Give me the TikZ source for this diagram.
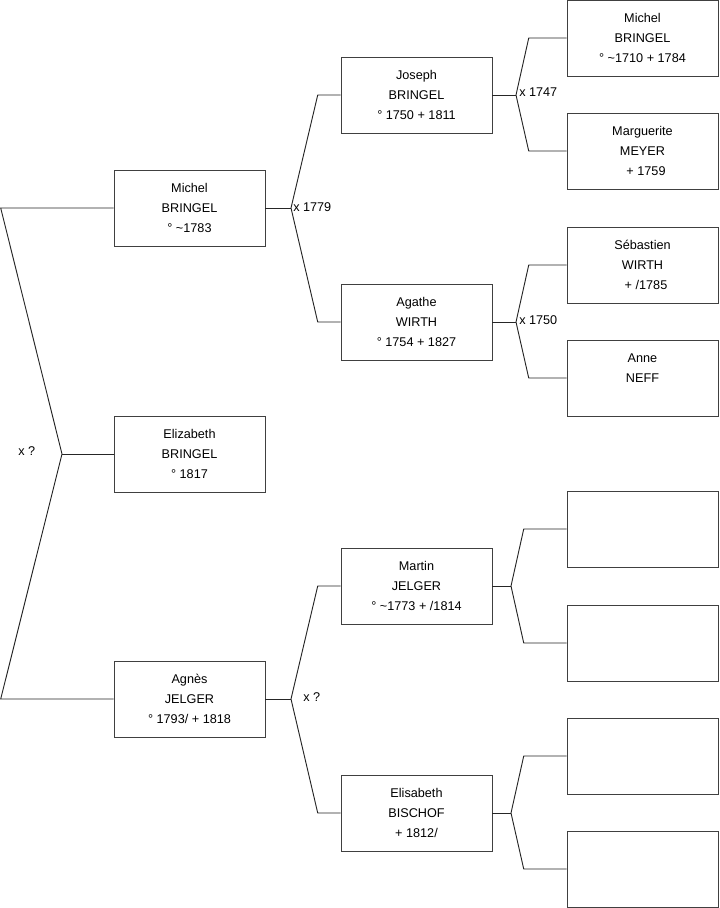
\documentclass[tikz,border=0pt]{standalone}
\usepackage{fontspec}
\setmainfont{Liberation Sans}
\usetikzlibrary{positioning, calc}

\begin{document}
\begin{tikzpicture}[
        x=0.75pt, y=-0.75pt,
        person/.style={rectangle, draw=black!75, fill=white, minimum width=113.25pt, minimum height=57pt, align=center, inner sep=0pt, font=\fontsize{9.5pt}{15pt}\selectfont},
        union/.style={font=\fontsize{9.5pt}{15pt}\selectfont, anchor=west, inner sep=0pt},
        link/.style={draw=black!85, line width=0.7pt}
    ]
        \useasboundingbox (0,0) rectangle (719,908);

        % Generation 1
        \node[person] (MICHEL) at (189.5,208) {Michel\\BRINGEL\\° \textasciitilde1783};
        \node[person] (ELIZABETH) at (189.5,454) {Elizabeth\\BRINGEL\\° 1817};
        \node[person] (AGNES) at (189.5,699) {Agnès\\JELGER\\° 1793/ + 1818};

        % Generation 2
        \node[person] (JOSEPH) at (416.5,95) {Joseph\\BRINGEL\\° 1750 + 1811};
        \node[person] (AGATHE) at (416.5,322) {Agathe\\WIRTH\\° 1754 + 1827};
        \node[person] (MARTIN) at (416.5,586) {Martin\\JELGER\\° \textasciitilde1773 + /1814};
        \node[person] (ELISABETH) at (416.5,813) {Elisabeth\\BISCHOF\\+ 1812/};

        % Generation 3
        \node[person] (MICHELB) at (642.5,38) {Michel\\BRINGEL\\° \textasciitilde1710 + 1784};
        \node[person] (MARGUERITE) at (642.5,151) {Marguerite\\MEYER\\\ \ + 1759};
        \node[person] (SEBASTIEN) at (642.5,265) {Sébastien\\WIRTH\\\ \ + /1785};
        \node[person] (ANNE) at (642.5,378) {Anne\\NEFF\\\mbox{}};
        \node[person] (EMPTYA) at (642.5,529) {};
        \node[person] (EMPTYB) at (642.5,643) {};
        \node[person] (EMPTYC) at (642.5,756) {};
        \node[person] (EMPTYD) at (642.5,869) {};

        % Marriage points
        \coordinate (XL) at (62,454);
        \coordinate (XM) at (291,208);
        \coordinate (XA) at (291,699);
        \coordinate (XJ) at (516,95);
        \coordinate (XG) at (516,322);
        \coordinate (XR) at (511,586);
        \coordinate (XE) at (511,813);

        \draw[link] (MICHEL.west) -- (0.7,208) -- (XL) -- (0.7,699) -- (AGNES.west);
        \draw[link] (XL) -- (ELIZABETH.west);

        \draw[link] (JOSEPH.west) -- ($(JOSEPH.west)+(-23,0)$) -- (XM) -- ($(AGATHE.west)+(-23,0)$) -- (AGATHE.west);
        \draw[link] (MICHEL.east) -- (XM);
        \draw[link] (MARTIN.west) -- ($(MARTIN.west)+(-23,0)$) -- (XA) -- ($(ELISABETH.west)+(-23,0)$) -- (ELISABETH.west);
        \draw[link] (AGNES.east) -- (XA);

        \draw[link] (MICHELB.west) -- ($(MICHELB.west)+(-38,0)$) -- (XJ) -- ($(MARGUERITE.west)+(-38,0)$) -- (MARGUERITE.west);
        \draw[link] (JOSEPH.east) -- (XJ);
        \draw[link] (SEBASTIEN.west) -- ($(SEBASTIEN.west)+(-38,0)$) -- (XG) -- ($(ANNE.west)+(-38,0)$) -- (ANNE.west);
        \draw[link] (AGATHE.east) -- (XG);
        \draw[link] (EMPTYA.west) -- ($(EMPTYA.west)+(-43,0)$) -- (XR) -- ($(EMPTYB.west)+(-43,0)$) -- (EMPTYB.west);
        \draw[link] (MARTIN.east) -- (XR);
        \draw[link] (EMPTYC.west) -- ($(EMPTYC.west)+(-43,0)$) -- (XE) -- ($(EMPTYD.west)+(-43,0)$) -- (EMPTYD.west);
        \draw[link] (ELISABETH.east) -- (XE);

        % Marriage labels
        \node[union] (UL) at (18,451) {x ?};
        \node[union] (UM) at (293,207) {x 1779};
        \node[union] (UA) at (303,697) {x ?};
        \node[union] (UJ) at (519,92) {x 1747};
        \node[union] (UG) at (519,320) {x 1750};
    \end{tikzpicture}
\end{document}
